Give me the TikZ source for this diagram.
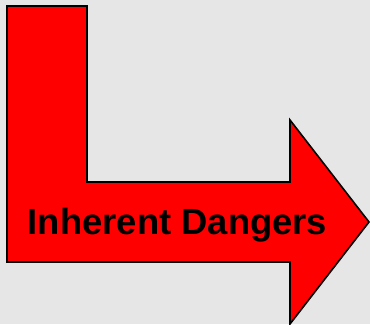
\documentclass[tikz,border=0pt]{standalone}
\usepackage{fontspec}
\setmainfont{Liberation Sans}
\usepackage{xcolor}
\usepackage{tikz}
\usetikzlibrary{positioning}

\definecolor{bgGray}{HTML}{E6E6E6}
\definecolor{arrowRed}{HTML}{FF0000}

\begin{document}
\begin{tikzpicture}[
    x=0.75pt, y=-0.75pt,
    bentarrow/.style={draw=black, line width=1.2pt, fill=arrowRed, line join=miter},
    label/.style={font=\fontsize{27.3}{31}\selectfont\bfseries, text=black, inner sep=0pt}
]
% Background
\fill[bgGray] (0,0) rectangle (370,324);
\useasboundingbox (0,0) rectangle (370,324);

% L-shaped arrow
\draw[bentarrow] (7,6) -- (87,6) -- (87,182) -- (290,182) -- (290,120)
    -- (369,222) -- (290,324) -- (290,262) -- (7,262) -- cycle;

% Label
\node[label, anchor=base] (dangers) at (177.5,234) {Inherent Dangers};
\end{tikzpicture}
\end{document}
